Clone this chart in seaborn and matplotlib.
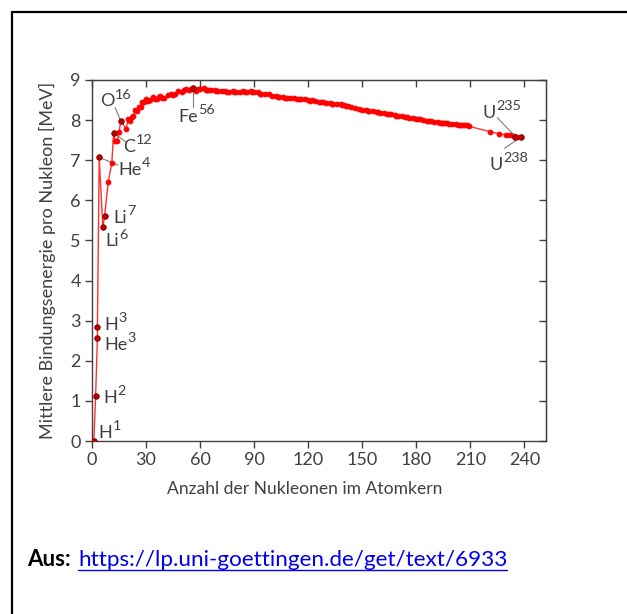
import matplotlib
matplotlib.use('Agg')
import matplotlib.pyplot as plt
from matplotlib.lines import Line2D
import pandas as pd
import seaborn as sns

# light nuclei, in the order the line goes through them
light_A = [1, 2, 3, 3, 4, 6, 7, 9, 11, 12, 13, 14, 15, 16]
light_B = [0.0, 1.11, 2.57, 2.83, 7.07, 5.33, 5.61, 6.46, 6.93, 7.68, 7.47, 7.48, 7.70, 7.98]

# rest of the curve (A >= 19)
heavy_A = [19, 20, 21, 22, 23, 24, 25, 26, 27, 28, 29, 30, 31, 32, 34, 35, 36, 37, 38, 39,
           40, 42, 44, 45, 46, 48, 50, 51, 52, 54, 55, 56, 58, 59, 60, 62, 63, 64, 65, 66,
           68, 69, 70, 72, 74, 75, 76, 78, 79, 80, 82, 84, 85, 86, 88, 89, 90, 92, 93, 94,
           96, 98, 100, 102, 103, 104, 106, 107, 108, 110, 112, 114, 115, 116, 118, 120, 121,
           122, 124, 126, 127, 128, 130, 132, 133, 134, 136, 138, 139, 140, 141, 142, 144,
           146, 148, 150, 152, 153, 154, 156, 158, 159, 160, 162, 164, 165, 166, 168, 169,
           170, 172, 174, 175, 176, 178, 180, 181, 182, 184, 186, 187, 188, 190, 192, 193,
           194, 195, 196, 197, 198, 200, 202, 203, 204, 205, 206, 207, 208, 209, 221, 226,
           230, 232, 234, 235, 236, 238]
heavy_B = [7.78, 8.03, 7.97, 8.08, 8.11, 8.26, 8.22, 8.33, 8.33, 8.45, 8.45, 8.52, 8.48, 8.49,
           8.58, 8.52, 8.52, 8.57, 8.61, 8.56, 8.55, 8.62, 8.66, 8.62, 8.66, 8.72, 8.70, 8.74,
           8.78, 8.74, 8.77, 8.79, 8.73, 8.77, 8.78, 8.79, 8.75, 8.74, 8.76, 8.76, 8.76, 8.72,
           8.73, 8.73, 8.73, 8.70, 8.71, 8.72, 8.69, 8.71, 8.69, 8.72, 8.70, 8.71, 8.73, 8.71,
           8.71, 8.69, 8.66, 8.66, 8.64, 8.64, 8.61, 8.61, 8.58, 8.58, 8.58, 8.55, 8.56, 8.55,
           8.54, 8.53, 8.52, 8.52, 8.52, 8.50, 8.48, 8.49, 8.47, 8.46, 8.45, 8.44, 8.43, 8.43,
           8.41, 8.41, 8.41, 8.39, 8.38, 8.38, 8.35, 8.35, 8.33, 8.30, 8.28, 8.26, 8.24, 8.23,
           8.23, 8.22, 8.20, 8.19, 8.18, 8.17, 8.16, 8.15, 8.14, 8.13, 8.11, 8.11, 8.10, 8.09,
           8.07, 8.06, 8.05, 8.03, 8.02, 8.02, 8.01, 7.99, 7.98, 7.97, 7.96, 7.95, 7.94, 7.94,
           7.93, 7.92, 7.92, 7.91, 7.91, 7.90, 7.89, 7.88, 7.88, 7.88, 7.87, 7.87, 7.85, 7.71,
           7.66, 7.63, 7.62, 7.60, 7.59, 7.58, 7.57]

# labelled nuclei: symbol, mass number, marker position, label anchor (left, baseline)
label_sym = ['H', 'H', 'H', 'He', 'He', 'Li', 'Li', 'C', 'O', 'Fe', 'U', 'U']
label_mass = ['1', '2', '3', '3', '4', '6', '7', '12', '16', '56', '235', '238']
label_A = [1, 2, 3, 3, 4, 6, 7, 12, 16, 56, 235, 238]
label_B = [0.0, 1.11, 2.83, 2.57, 7.07, 5.33, 5.61, 7.68, 7.98, 8.79, 7.59, 7.57]
text_A = [3.5, 6.3, 6.8, 6.8, 14.4, 7.6, 11.7, 17.4, 4.6, 47.9, 216.8, 220.7]
text_B = [0.07, 0.94, 2.77, 2.27, 6.63, 4.85, 5.43, 7.21, 8.34, 7.95, 8.05, 6.76]
# leader lines from the point to the label
leader_idx = [4, 7, 8, 9, 10, 11]
leader_A = [14.4, 18.7, 12.8, 56, 225, 229]
leader_B = [6.88, 7.46, 8.31, 8.33, 8.06, 7.30]

x_ticks = [0, 30, 60, 90, 120, 150, 180, 210, 240]
y_ticks = list(range(10))

sns.set_style('ticks')
plt.rcParams['font.family'] = ['Lato', 'DejaVu Sans']

dark = '#404040'
fs = 13
curve = pd.DataFrame({'A': light_A + heavy_A, 'B': light_B + heavy_B})
marked = pd.DataFrame({'A': label_A, 'B': label_B})

fig = plt.figure(figsize=(6.27, 6.14), dpi=100)
ax = fig.add_axes([92 / 627, 1 - 441 / 614, 454 / 627, 361 / 614])

sns.lineplot(data=curve, x='A', y='B', sort=False, estimator=None, ax=ax,
             color='#ff3030', lw=1.0, marker='o', markersize=3.4,
             markerfacecolor='#ff0000', markeredgecolor='#ff0000', zorder=3)
sns.scatterplot(data=marked, x='A', y='B', ax=ax, s=15, color='#c00000',
                edgecolor='#7a0000', linewidth=0.6, zorder=4)

for i, (sym, mass) in enumerate(zip(label_sym, label_mass)):
    t = ax.text(text_A[i], text_B[i], sym, ha='left', va='baseline', fontsize=fs,
                color=dark, zorder=5)
    ax.annotate(mass, xy=(1, 1), xycoords=t, xytext=(0.3, 3.5), textcoords='offset points',
                ha='left', va='top', fontsize=fs * 0.8, color=dark, zorder=5)
for i, lx, ly in zip(leader_idx, leader_A, leader_B):
    ax.plot([label_A[i], lx], [label_B[i], ly], color='#7f7f7f', lw=0.8, zorder=2)

ax.set_xlim(0, 252)
ax.set_ylim(0, 9)
ax.set_xticks(x_ticks)
ax.set_yticks(y_ticks)
ax.tick_params(direction='out', length=5, width=1, colors=dark, labelsize=fs, pad=3)
for s in ax.spines.values():
    s.set_color(dark)
    s.set_linewidth(1.0)
    s.set_visible(True)

top = ax.secondary_xaxis('top')
top.set_xticks(x_ticks)
top.tick_params(direction='in', length=5, width=1, colors=dark, labeltop=False)
top.spines['top'].set_color(dark)
right = ax.secondary_yaxis('right')
right.set_yticks(y_ticks)
right.tick_params(direction='in', length=5, width=1, colors=dark, labelright=False)
right.spines['right'].set_color(dark)

ax.set_xlabel('Anzahl der Nukleonen im Atomkern', fontsize=12.6, color=dark)
ax.set_ylabel('Mittlere Bindungsenergie pro Nukleon [MeV]', fontsize=fs, color=dark)
ax.xaxis.set_label_coords((305 - 92) / 454, -0.112)
ax.yaxis.set_label_coords(-0.08, 0.5)

# frame of the page snippet
fig.add_artist(Line2D([11.5 / 627, 11.5 / 627], [0, 1 - 11.5 / 614], transform=fig.transFigure,
                      color='black', lw=1.6))
fig.add_artist(Line2D([11.5 / 627, 1], [1 - 11.5 / 614, 1 - 11.5 / 614], transform=fig.transFigure,
                      color='black', lw=1.6))

# caption with link
t1 = fig.text(26.7 / 627, 1 - 566.5 / 614, 'Aus:', fontsize=16, fontweight='bold',
              color='black', ha='left', va='baseline')
t2 = fig.text(78 / 627, 1 - 566.5 / 614, 'https://lp.uni-goettingen.de/get/text/6933',
              fontsize=16.2, color='#0000ee', ha='left', va='baseline')
fig.canvas.draw()
bb = t2.get_window_extent()
x0, x1 = bb.x0 / fig.bbox.width, bb.x1 / fig.bbox.width
fig.add_artist(Line2D([x0, x1], [1 - 570 / 614, 1 - 570 / 614], transform=fig.transFigure,
                      color='#0000ee', lw=1.0))

fig.savefig('out.png', dpi=100)
